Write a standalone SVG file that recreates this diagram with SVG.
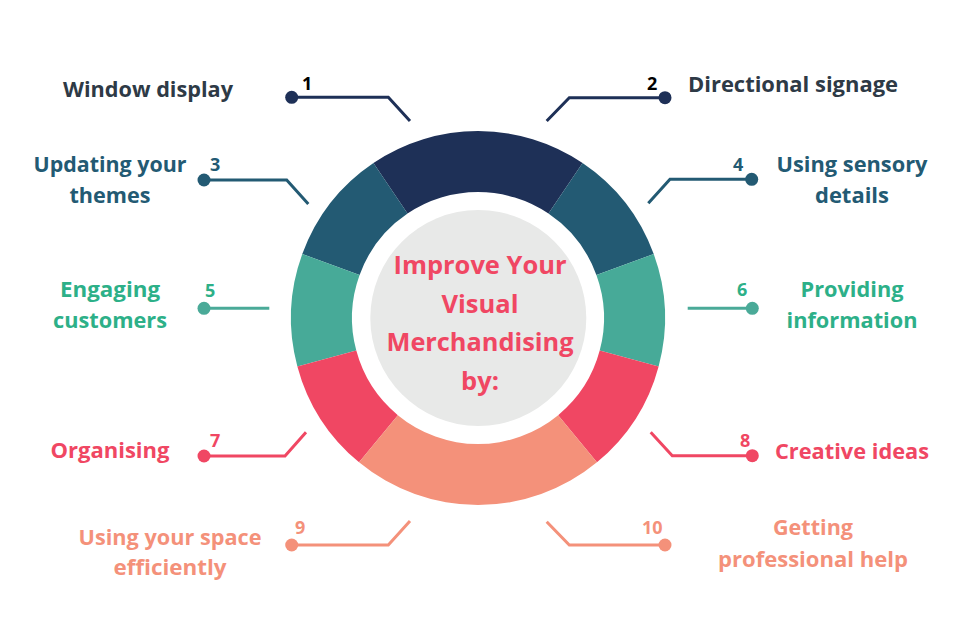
<svg xmlns="http://www.w3.org/2000/svg" width="960" height="636" viewBox="0 0 960 636">
<style>
text{font-family:"Open Sans","Liberation Sans",sans-serif;font-weight:700}
.lbl{font-size:20.5px;text-anchor:middle}
.num{font-size:18px}
.ctr{font-size:25.5px;text-anchor:middle;fill:#F04763}
.ln{fill:none;stroke-width:3}
.navy{fill:#1E3057}.teal{fill:#235A73}.green{fill:#47AA98}.pink{fill:#F04763}.salmon{fill:#F4917A}
</style>
<rect width="960" height="636" fill="#FFFFFF"/>
<g id="donut">
<path class="navy" d="M582.57 162.98 A187 187 0 0 0 373.43 162.98 L407.54 213.55 A126 126 0 0 1 548.46 213.55 Z"/>
<path class="teal" d="M653.72 254.04 A187 187 0 0 0 582.57 162.98 L548.46 213.55 A126 126 0 0 1 596.40 274.91 Z"/>
<path class="teal" d="M373.43 162.98 A187 187 0 0 0 302.28 254.04 L359.60 274.91 A126 126 0 0 1 407.54 213.55 Z"/>
<path class="green" d="M658.63 366.40 A187 187 0 0 0 653.72 254.04 L596.40 274.91 A126 126 0 0 1 599.70 350.61 Z"/>
<path class="green" d="M302.28 254.04 A187 187 0 0 0 297.37 366.40 L356.30 350.61 A126 126 0 0 1 359.60 274.91 Z"/>
<path class="pink" d="M596.95 462.29 A187 187 0 0 0 658.63 366.40 L599.70 350.61 A126 126 0 0 1 558.15 415.22 Z"/>
<path class="pink" d="M297.37 366.40 A187 187 0 0 0 359.05 462.29 L397.85 415.22 A126 126 0 0 1 356.30 350.61 Z"/>
<path class="salmon" d="M359.05 462.29 A187 187 0 0 0 596.95 462.29 L558.15 415.22 A126 126 0 0 1 397.85 415.22 Z"/>
</g>
<g id="center">
<circle cx="478.3" cy="318" r="108" fill="#E8E9E8"/>
<text class="ctr" x="480" y="274" textLength="173" lengthAdjust="spacingAndGlyphs">Improve Your</text>
<text class="ctr" x="480" y="312.5">Visual</text>
<text class="ctr" x="480" y="351" textLength="187" lengthAdjust="spacingAndGlyphs">Merchandising</text>
<text class="ctr" x="480" y="389.5">by:</text>
</g>
<g id="connectors">
<polyline class="ln" stroke="#1E3057" points="291.7,97.3 388.3,97.3 410,121"/>
<polyline class="ln" stroke="#1E3057" points="665,97.7 569.3,97.7 546.7,121"/>
<polyline class="ln" stroke="#235A73" points="204,180 286.7,180 308.3,204"/>
<polyline class="ln" stroke="#235A73" points="751.7,179.3 670,179.3 648.3,203.3"/>
<polyline class="ln" stroke="#4AAA98" points="204,308.3 269.3,308.3"/>
<polyline class="ln" stroke="#4AAA98" points="752.3,308.3 687.7,308.3"/>
<polyline class="ln" stroke="#F04763" points="204,456 285,456 306,432.3"/>
<polyline class="ln" stroke="#F04763" points="752.3,455.7 672.3,455.7 650.7,432.3"/>
<polyline class="ln" stroke="#F4917A" points="291.7,545 388.3,545 410,521"/>
<polyline class="ln" stroke="#F4917A" points="665,545 569.3,545 546.7,521.7"/>
</g>
<g id="n1"><circle cx="291.7" cy="97.3" r="6.5" fill="#1E3057"/><text class="num" x="302" y="90" fill="#000">1</text><text class="lbl" x="148" y="97" fill="#2E3A46" textLength="170" lengthAdjust="spacingAndGlyphs">Window display</text></g>
<g id="n2"><circle cx="665" cy="97.7" r="6.5" fill="#1E3057"/><text class="num" x="647" y="90" fill="#000">2</text><text class="lbl" x="793" y="92" fill="#2E3A46" textLength="210" lengthAdjust="spacingAndGlyphs">Directional signage</text></g>
<g id="n3"><circle cx="204" cy="180" r="6.5" fill="#235A73"/><text class="num" x="210" y="171" fill="#235A73">3</text><text class="lbl" x="110" y="172" fill="#235A73" textLength="153" lengthAdjust="spacingAndGlyphs">Updating your</text><text class="lbl" x="110" y="203" fill="#235A73" textLength="81" lengthAdjust="spacingAndGlyphs">themes</text></g>
<g id="n4"><circle cx="751.7" cy="179.3" r="6.5" fill="#235A73"/><text class="num" x="733" y="171" fill="#235A73">4</text><text class="lbl" x="852" y="172" fill="#235A73" textLength="151" lengthAdjust="spacingAndGlyphs">Using sensory</text><text class="lbl" x="852" y="203" fill="#235A73" textLength="74" lengthAdjust="spacingAndGlyphs">details</text></g>
<g id="n5"><circle cx="204" cy="308.3" r="6.5" fill="#4AAA98"/><text class="num" x="205" y="297" fill="#2DB088">5</text><text class="lbl" x="110" y="297" fill="#2DB088" textLength="100" lengthAdjust="spacingAndGlyphs">Engaging</text><text class="lbl" x="110" y="328" fill="#2DB088" textLength="114" lengthAdjust="spacingAndGlyphs">customers</text></g>
<g id="n6"><circle cx="752.3" cy="308.3" r="6.5" fill="#4AAA98"/><text class="num" x="737" y="296" fill="#2DB088">6</text><text class="lbl" x="852" y="297" fill="#2DB088" textLength="103" lengthAdjust="spacingAndGlyphs">Providing</text><text class="lbl" x="852" y="328" fill="#2DB088" textLength="131" lengthAdjust="spacingAndGlyphs">information</text></g>
<g id="n7"><circle cx="204" cy="456" r="6.5" fill="#F04763"/><text class="num" x="210" y="447" fill="#F04763">7</text><text class="lbl" x="110" y="458" fill="#F04763" textLength="119" lengthAdjust="spacingAndGlyphs">Organising</text></g>
<g id="n8"><circle cx="752.3" cy="455.7" r="6.5" fill="#F04763"/><text class="num" x="740" y="447" fill="#F04763">8</text><text class="lbl" x="852" y="459" fill="#F04763" textLength="154" lengthAdjust="spacingAndGlyphs">Creative ideas</text></g>
<g id="n9"><circle cx="291.7" cy="545" r="6.5" fill="#F4917A"/><text class="num" x="295" y="534" fill="#F4917A">9</text><text class="lbl" x="170" y="545" fill="#F4917A" textLength="183" lengthAdjust="spacingAndGlyphs">Using your space</text><text class="lbl" x="170" y="575" fill="#F4917A" textLength="113" lengthAdjust="spacingAndGlyphs">efficiently</text></g>
<g id="n10"><circle cx="665" cy="545" r="6.5" fill="#F4917A"/><text class="num" x="642" y="534" fill="#F4917A">10</text><text class="lbl" x="813" y="535" fill="#F4917A" textLength="80" lengthAdjust="spacingAndGlyphs">Getting</text><text class="lbl" x="813" y="567" fill="#F4917A" textLength="190" lengthAdjust="spacingAndGlyphs">professional help</text></g>
</svg>
